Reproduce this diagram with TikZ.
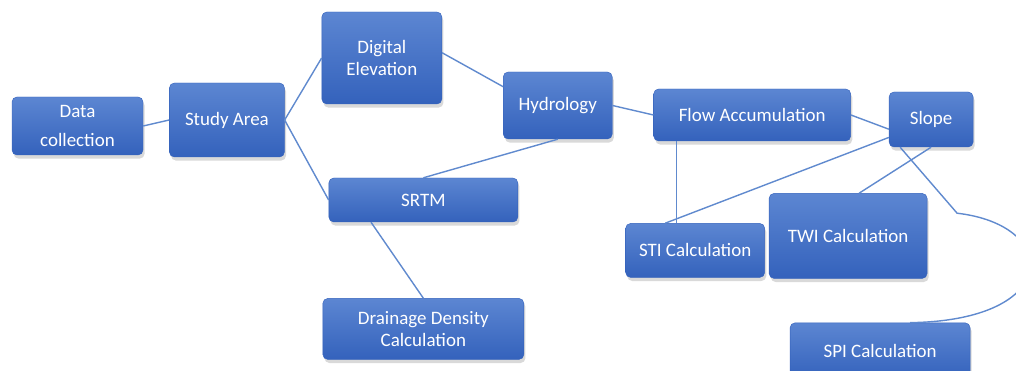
\documentclass[tikz,border=0pt]{standalone}
\usepackage{fontspec}
\setmainfont{Carlito}
\usetikzlibrary{positioning,shadows}

\definecolor{boxtop}{RGB}{92,134,210}
\definecolor{boxbot}{RGB}{52,98,188}
\definecolor{linkblue}{RGB}{96,138,206}

\begin{document}
\begin{tikzpicture}[
  font=\fontsize{13.5}{16}\selectfont,
  box/.style={draw=boxbot, line width=0.3pt, rounded corners=3.5pt, align=center,
    inner sep=2pt, text=white, top color=boxtop, bottom color=boxbot,
    drop shadow={shadow xshift=0.4mm, shadow yshift=-0.9mm, opacity=0.3}},
  link/.style={draw=linkblue, line width=1pt}
]
  \useasboundingbox (0,0) rectangle (25.4,-9.275);

  \node[box, minimum width=3.275cm, minimum height=1.45cm] (dc) at (1.9375,-3.15) {Data\\[4pt]collection};
  \node[box, minimum width=2.875cm, minimum height=1.85cm, right=0.65cm of dc, yshift=0.15cm] (sa) {Study Area};
  \node[box, minimum width=3cm, minimum height=2.3cm, right=0.925cm of sa, yshift=1.55cm] (de) {Digital\\Elevation};
  \node[box, minimum width=4.725cm, minimum height=1.1cm, right=1.1cm of sa, yshift=-2cm] (srtm) {SRTM};
  \node[box, minimum width=5.025cm, minimum height=1.525cm, below=1.9cm of srtm] (dd) {Drainage Density\\Calculation};
  \node[box, minimum width=2.725cm, minimum height=1.675cm, right=1.525cm of de, yshift=-1.1875cm] (hy) {Hydrology};
  \node[box, minimum width=4.925cm, minimum height=1.3cm, right=1.025cm of hy, yshift=-0.2375cm] (fa) {Flow Accumulation};
  \node[box, minimum width=2.1cm, minimum height=1.375cm, right=0.95cm of fa, yshift=-0.1125cm] (sl) {Slope};
  \node[box, minimum width=3.475cm, minimum height=1.35cm, below=2.05cm of fa, xshift=-1.425cm] (sti) {STI Calculation};
  \node[box, minimum width=3.95cm, minimum height=2.125cm, right=0.1cm of sti, yshift=0.3625cm] (twi) {TWI Calculation};
  \node[box, minimum width=4.5cm, minimum height=1.4cm, below=1.1cm of twi, xshift=0.8cm] (spi) {SPI Calculation};

  \draw[link] (dc.east) -- (sa.west);
  \draw[link] (sa.east) -- (de.west);
  \draw[link] (sa.east) -- (srtm.west);
  \draw[link] (de.5) -- (hy.161);
  \draw[link] (hy.south) -- (srtm.north);
  \draw[link] (srtm.203) -- (dd.north);
  \draw[link] (hy.east) -- (fa.west);
  \draw[link] (fa.east) -- (sl.193);
  \draw[link] ([xshift=-1.8875cm]fa.south) -- ([xshift=-0.4625cm]sti.north);
  \draw[link] ([xshift=-0.75cm]sti.north) -- (sl.203);
  \draw[link] (sl.south) -- ([xshift=0.275cm]twi.north);
  \coordinate (bend) at ([xshift=0.65cm, yshift=-1.65cm]sl.south);
  \draw[link] ([xshift=-0.775cm]sl.south) -- (bend)
    .. controls +(2.6,-0.3) and +(3.8,0.05) .. ([xshift=0.75cm]spi.north);
\end{tikzpicture}
\end{document}
